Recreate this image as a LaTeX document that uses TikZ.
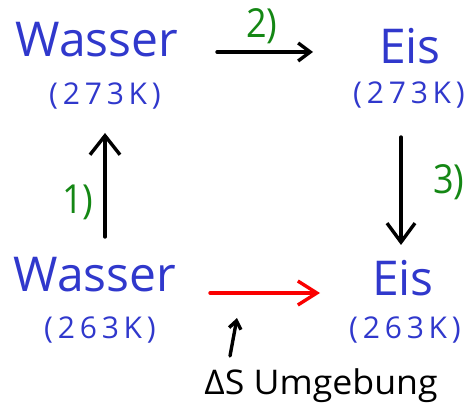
\documentclass[tikz,border=0pt]{standalone}
\usepackage{fontspec}
\setmainfont{Open Sans}
\newfontfamily\hand{Open Sans}
\newfontfamily\handw[FakeStretch=1.05]{Open Sans}
\newfontfamily\handn[FakeStretch=0.9]{Open Sans}
\newfontfamily\handsp[LetterSpace=16]{Open Sans}
\usetikzlibrary{arrows.meta}
\definecolor{inkblue}{RGB}{48,56,204}
\definecolor{inkgreen}{RGB}{20,135,20}
\definecolor{inkred}{RGB}{250,0,0}
\tikzset{
  bigword/.style={text=inkblue,inner sep=0pt,font=\hand\fontsize{48}{48}\selectfont},
  temp/.style={text=inkblue,inner sep=0pt,font=\handsp\fontsize{30}{30}\selectfont},
  steplabel/.style={text=inkgreen,inner sep=0pt,font=\handn\fontsize{40}{40}\selectfont},
  note/.style={text=black,inner sep=0pt,font=\handw\fontsize{34}{34}\selectfont},
  arr/.style 2 args={line width=3.4pt,line cap=round,line join=round,-{Straight Barb[length=#1pt,width=#2pt,line width=3.4pt]}}
}
\begin{document}
\begin{tikzpicture}[x=1pt,y=-1pt]
\useasboundingbox (0,0) rectangle (475,420);
\node[bigword] (w1) at (97,40) {Wasser};
\node[temp] (t1) at (105,96) {(273K)};
\node[bigword] (e1) at (410,46) {Eis};
\node[temp] (t2) at (409,95) {(273K)};
\node[bigword] (w2) at (95,275) {Wasser};
\node[temp] (t3) at (100,330) {(263K)};
\node[bigword] (e2) at (403,278) {Eis};
\node[temp] (t4) at (405,330) {(263K)};
\node[steplabel] (s1) at (78,202) {1)};
\node[steplabel] (s2) at (262,26) {2)};
\node[steplabel] (s3) at (449,182) {3)};
\node[note] (ds) at (321,386) {ΔS Umgebung};
\coordinate (a1s) at (105,237); \coordinate (a1e) at (105,133);
\coordinate (a2s) at (217,52); \coordinate (a2e) at (313,52);
\coordinate (a3s) at (401,137); \coordinate (a3e) at (401,245);
\coordinate (ars) at (210,293); \coordinate (are) at (320,293);
\coordinate (aus) at (230,356); \coordinate (aue) at (237,318);
\draw[arr={19}{30}] (a1s) -- (a1e);
\draw[arr={12}{18}] (a2s) -- (a2e);
\draw[arr={19}{28}] (a3s) -- (a3e);
\draw[arr={19}{24},draw=inkred] (ars) -- (are);
\draw[arr={8}{12}] (aus) -- (aue);
\end{tikzpicture}
\end{document}
